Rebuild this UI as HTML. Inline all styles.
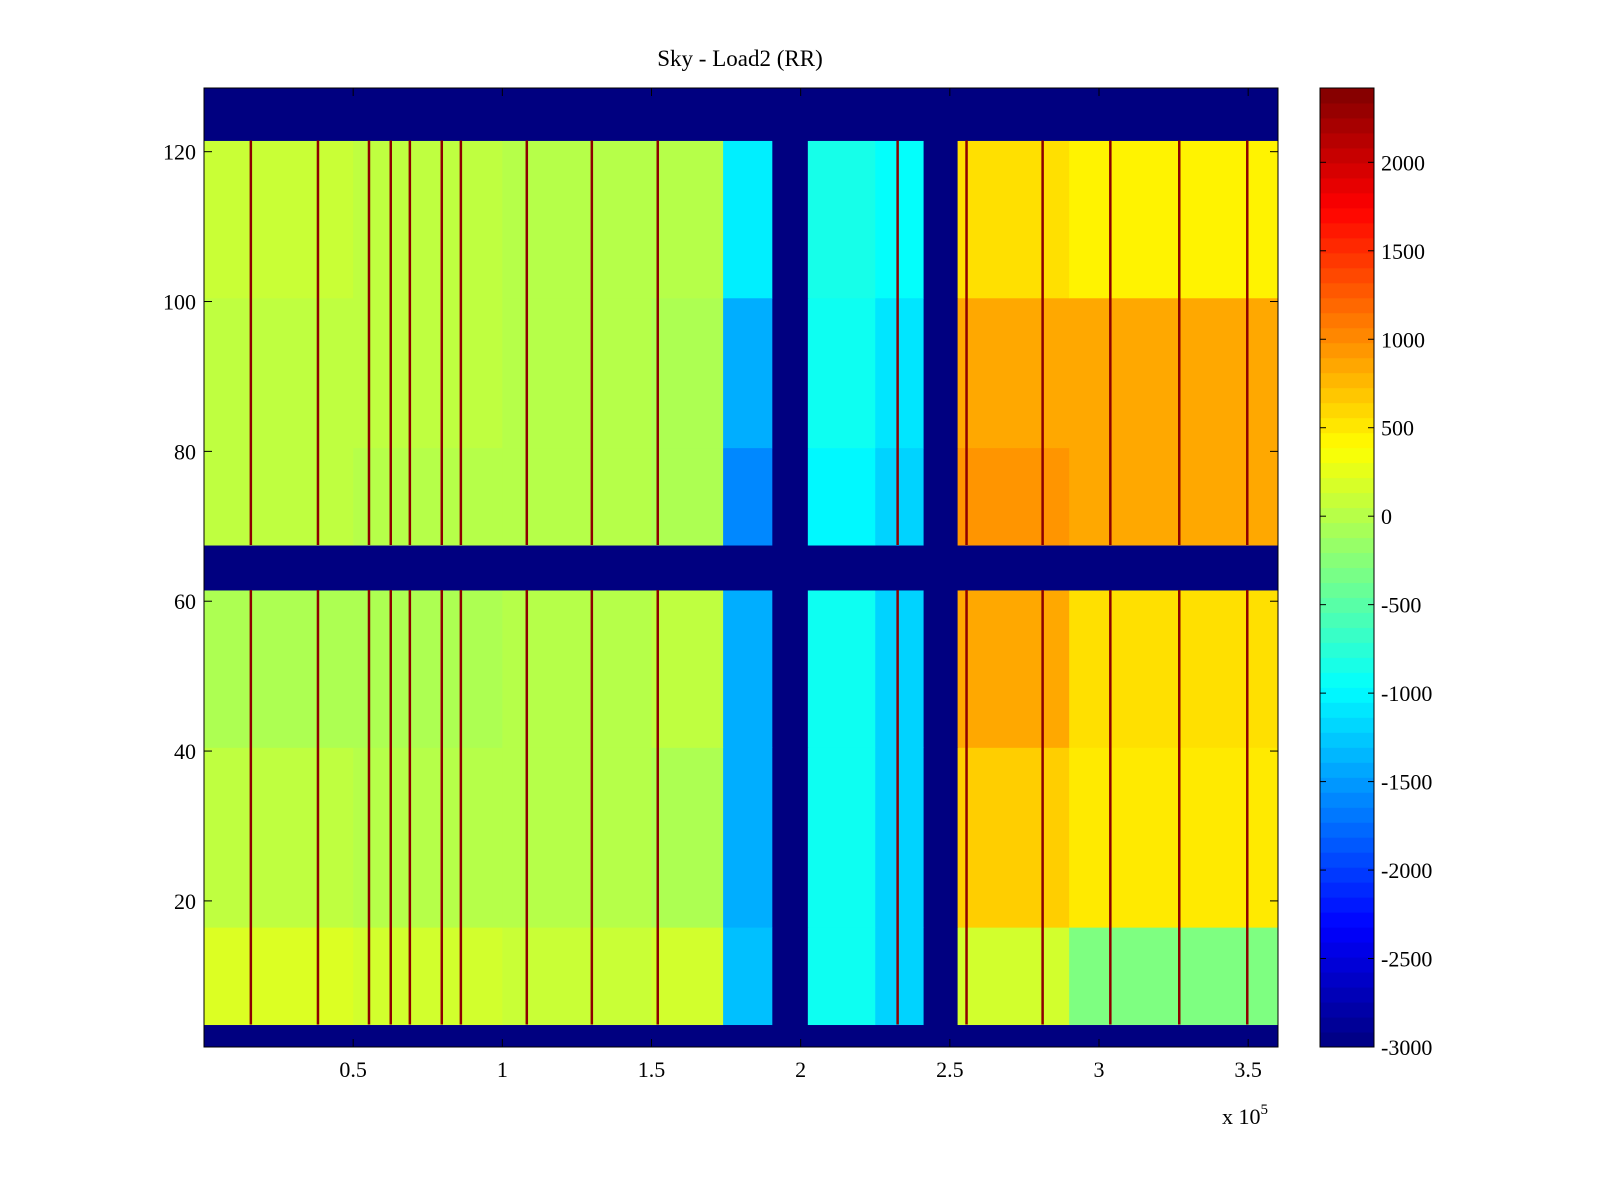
<!DOCTYPE html>
<html><head><meta charset="utf-8">
<style>
body{margin:0;background:#fff;}
svg{display:block;font-family:"Liberation Serif",serif;}
</style></head>
<body>
<svg id="chart" width="1600" height="1200">
<text x="740" y="66" font-size="23" text-anchor="middle">Sky - Load2 (RR)</text>
<g id="cells"></g>
<g id="axes"></g>
<g id="cbar"></g>
</svg>
<script>
// ---- data ----
const colEdges = [0, 0.5, 1.0, 1.5, 1.74, 1.905, 2.024, 2.25, 2.412, 2.526, 2.9, 3.6];
const rowEdges = [0.5, 3.5, 16.5, 40.5, 61.5, 67.5, 80.5, 100.5, 121.5, 128.5];
// values per row band (bottom to top) per column segment
const values = [
  [-3000,-3000,-3000,-3000,-3000,-3000,-3000,-3000,-3000,-3000,-3000],
  [200,150,100,150,-1300,-3000,-900,-1200,-3000,150,-300],
  [50,0,0,-50,-1400,-3000,-900,-1200,-3000,650,500],
  [-50,-50,0,50,-1400,-3000,-900,-1200,-3000,850,550],
  [-3000,-3000,-3000,-3000,-3000,-3000,-3000,-3000,-3000,-3000,-3000],
  [50,0,0,-50,-1600,-3000,-1000,-1200,-3000,950,850],
  [50,50,0,-50,-1400,-3000,-900,-1100,-3000,850,850],
  [100,50,0,0,-1050,-3000,-850,-950,-3000,550,450],
  [-3000,-3000,-3000,-3000,-3000,-3000,-3000,-3000,-3000,-3000,-3000]
];
const stripeX = [0.157,0.382,0.553,0.626,0.690,0.797,0.861,1.082,1.300,1.521,2.325,2.556,2.811,3.038,3.269,3.497];
const stripeVal = 2350;
const dataBands = [[3.5,61.5],[67.5,121.5]];
const xTicks = [0.5,1,1.5,2,2.5,3,3.5];
const xTickLabels = ["0.5","1","1.5","2","2.5","3","3.5"];
const yTicks = [20,40,60,80,100,120];
const cTicks = [-3000,-2500,-2000,-1500,-1000,-500,0,500,1000,1500,2000];

// ---- scales ----
const L=204,R=1278,T=88,B=1047;
const xMin=0,xMax=3.6,yMin=0.5,yMax=128.5,cMin=-3000,cMax=2420;
const sx=v=>L+(v-xMin)/(xMax-xMin)*(R-L);
const sy=v=>B-(v-yMin)/(yMax-yMin)*(B-T);
function jet(v){
  let t=(v-cMin)/(cMax-cMin); t=Math.max(0,Math.min(1,t));
  const f=x=>Math.round(255*Math.max(0,Math.min(1,1.5-Math.abs(4*t-x))));
  return `rgb(${f(3)},${f(2)},${f(1)})`;
}
const NS="http://www.w3.org/2000/svg";
function mk(tag,attrs,parent){const e=document.createElementNS(NS,tag);for(const k in attrs)e.setAttribute(k,attrs[k]);parent.appendChild(e);return e;}

const cells=document.getElementById('cells');
for(let r=0;r<values.length;r++){
  for(let c=0;c<values[r].length;c++){
    const x0=sx(colEdges[c]),x1=sx(colEdges[c+1]),y0=sy(rowEdges[r+1]),y1=sy(rowEdges[r]);
    const e=mk('rect',{x:x0,y:y0,width:x1-x0+0.5,height:y1-y0+0.5,fill:jet(values[r][c])},cells);
    
    
  }
}
for(const sxv of stripeX){
  for(const b of dataBands){
    const e=mk('rect',{x:sx(sxv)-1.25,y:sy(b[1]),width:2.5,height:sy(b[0])-sy(b[1]),fill:jet(stripeVal)},cells);
    
    
  }
}

// axes
const ax=document.getElementById('axes');
mk('rect',{x:L,y:T,width:R-L,height:B-T,fill:'none',stroke:'#000','stroke-width':1},ax);
xTicks.forEach((v,i)=>{
  const x=sx(v);
  mk('line',{x1:x,x2:x,y1:B,y2:B-8,stroke:'#000'},ax);
  mk('line',{x1:x,x2:x,y1:T,y2:T+8,stroke:'#000'},ax);
  const t=mk('text',{x:x,y:B+30,'font-size':22,'text-anchor':'middle'},ax);
  t.textContent=xTickLabels[i];
  
  
});
yTicks.forEach(v=>{
  const y=sy(v);
  mk('line',{x1:L,x2:L+8,y1:y,y2:y,stroke:'#000'},ax);
  mk('line',{x1:R,x2:R-8,y1:y,y2:y,stroke:'#000'},ax);
  const t=mk('text',{x:L-8,y:y+8,'font-size':22,'text-anchor':'end'},ax);
  t.textContent=String(v);
  
  
});
const ex=mk('text',{x:1222,y:1124,'font-size':22},ax);
ex.innerHTML='x 10<tspan dy="-10" font-size="15">5</tspan>';



// colorbar
const cb=document.getElementById('cbar');
const CL=1320,CR=1374;
const cy=v=>B-(v-cMin)/(cMax-cMin)*(B-T);
const nSteps=64;
for(let i=0;i<nSteps;i++){
  const v0=cMin+(cMax-cMin)*i/nSteps,v1=cMin+(cMax-cMin)*(i+1)/nSteps;
  const e=mk('rect',{x:CL,y:cy(v1),width:CR-CL,height:cy(v0)-cy(v1)+0.5,fill:jet((v0+v1)/2)},cb);
  
  
}
mk('rect',{x:CL,y:T,width:CR-CL,height:B-T,fill:'none',stroke:'#000'},cb);
cTicks.forEach(v=>{
  const y=cy(v);
  mk('line',{x1:CL,x2:CL+6,y1:y,y2:y,stroke:'#000'},cb);
  mk('line',{x1:CR,x2:CR-6,y1:y,y2:y,stroke:'#000'},cb);
  const t=mk('text',{x:CR+7,y:y+8,'font-size':22},cb);
  t.textContent=String(v);
  
  
});
</script>
</body></html>
